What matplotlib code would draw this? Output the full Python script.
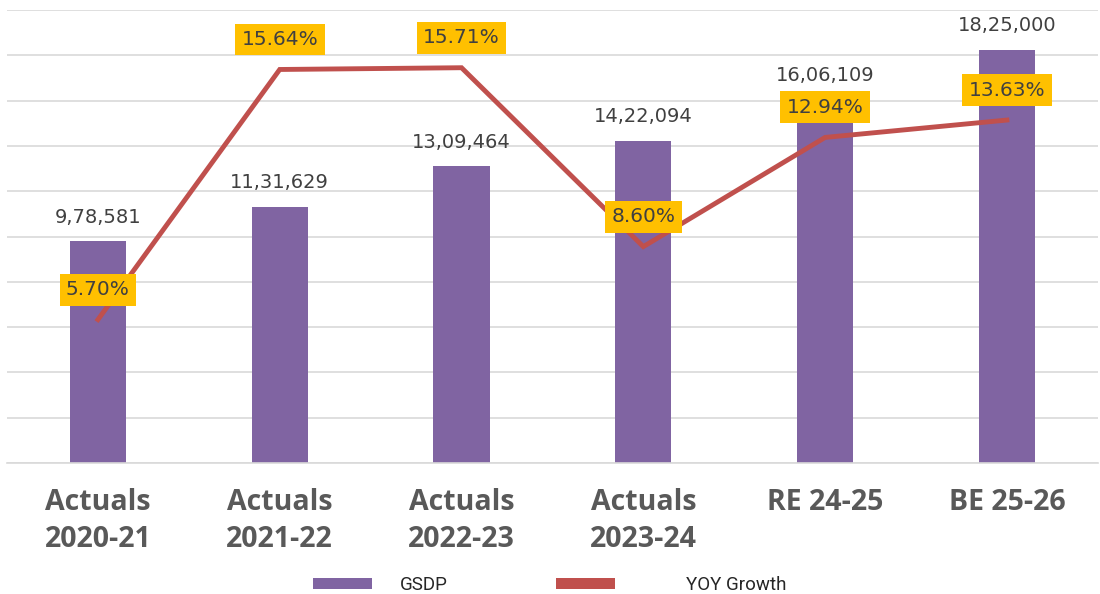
import matplotlib
matplotlib.use("Agg")
import matplotlib.pyplot as plt
from matplotlib.patches import Patch
import numpy as np

categories = ["Actuals\n2020-21", "Actuals\n2021-22", "Actuals\n2022-23",
              "Actuals\n2023-24", "RE 24-25", "BE 25-26"]
gsdp = [978581, 1131629, 1309464, 1422094, 1606109, 1825000]
gsdp_labels = ["9,78,581", "11,31,629", "13,09,464", "14,22,094", "16,06,109", "18,25,000"]
yoy = [5.70, 15.64, 15.71, 8.60, 12.94, 13.63]

bar_color = "#8064A2"
line_color = "#C0504D"
label_bg = "#FFC000"
grid_color = "#D9D9D9"

fig = plt.figure(figsize=(11, 5.94), dpi=100)
ax = fig.add_axes([0.0064, 0.2205, 0.9916, 0.7625])
x = np.arange(len(categories))

ax.bar(x, gsdp, width=0.31, color=bar_color, zorder=2)
ax.set_xlim(-0.5, 5.5)
ax.set_ylim(0, 2000000)
ax.set_yticks(np.arange(0, 2000001, 200000))
ax.yaxis.grid(True, color=grid_color, linewidth=1.2, zorder=0)
ax.set_axisbelow(True)
for s in ["top", "right", "left"]:
    ax.spines[s].set_visible(False)
ax.spines["bottom"].set_color(grid_color)
ax.spines["bottom"].set_linewidth(1.2)
ax.tick_params(axis="y", left=False, length=0, labelleft=False)
ax.tick_params(axis="x", bottom=False, length=0, pad=18)
ax.set_xticks(x)
ax.set_xticklabels(categories, fontsize=20.5, fontweight="bold", color="#595959",
                   family="Open Sans", linespacing=1.38)

for xi, v, lab in zip(x, gsdp, gsdp_labels):
    ax.annotate(lab, (xi, v), xytext=(0, 24), textcoords="offset pixels",
                ha="center", va="center", fontsize=14, color="#404040",
                family="DejaVu Sans", zorder=5)

ax2 = ax.twinx()
ax2.set_ylim(0, 18)
ax2.plot(x, yoy, color=line_color, linewidth=3.5, zorder=3, solid_joinstyle="miter")
ax2.axis("off")
for xi, v in zip(x, yoy):
    ax2.annotate(f"{v:.2f}%", (xi, v), xytext=(0, 30), textcoords="offset pixels",
                 ha="center", va="center", fontsize=14.5, color="#404040",
                 family="DejaVu Sans", zorder=6,
                 bbox=dict(boxstyle="square,pad=0.32", fc=label_bg, ec="none"))

legend_y = 1 - 585 / 594
common = dict(loc="center left", frameon=False, borderpad=0, borderaxespad=0,
              prop={"family": "Roboto", "size": 13.5}, handlelength=3.15,
              handleheight=0.53, labelcolor="#262626")
fig.legend(handles=[Patch(facecolor=bar_color, edgecolor="none", label="GSDP")],
           bbox_to_anchor=(313 / 1100, legend_y), handletextpad=1.5, **common)
fig.legend(handles=[Patch(facecolor=line_color, edgecolor="none", label="YOY Growth")],
           bbox_to_anchor=(556 / 1100, legend_y), handletextpad=3.8, **common)

fig.savefig("out.png", dpi=100)
